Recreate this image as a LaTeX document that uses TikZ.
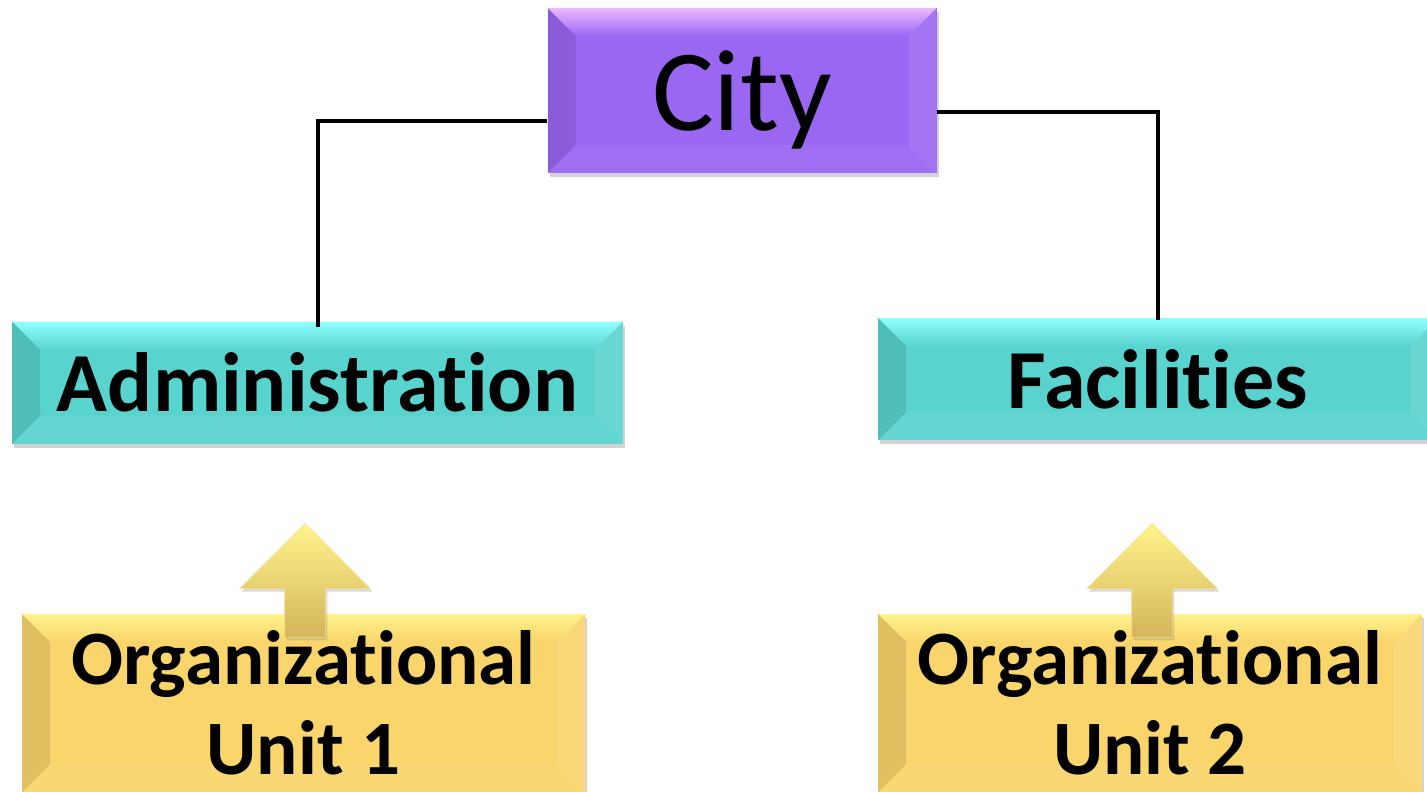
\documentclass[tikz,border=0pt]{standalone}
\usepackage{fontspec}
\setmainfont{Carlito}[Ligatures={NoCommon,NoContextual,NoRequired}, RawFeature={-liga;-clig;-calt}]
\usetikzlibrary{shapes.arrows,shadows}

\definecolor{cityfill}{HTML}{9A67F3}
\definecolor{citylight}{HTML}{EDB8FF}
\definecolor{unitfill}{HTML}{59D3CE}
\definecolor{unitlight}{HTML}{90FFFF}
\definecolor{orgfill}{HTML}{F9D56B}
\definecolor{orglight}{HTML}{FFF38C}

\tikzset{
  bevelbox/.style n args={2}{fill=#1, inner sep=0pt, align=center,
    drop shadow={opacity=0.35, shadow xshift=2pt, shadow yshift=-4pt},
    path picture={
      \coordinate (nw) at (path picture bounding box.north west);
      \coordinate (ne) at (path picture bounding box.north east);
      \coordinate (sw) at (path picture bounding box.south west);
      \coordinate (se) at (path picture bounding box.south east);
      \shade[top color=#2, bottom color=#1] (nw) -- (ne) -- ([xshift=-28pt,yshift=-28pt]ne)
        -- ([xshift=28pt,yshift=-28pt]nw) -- cycle;
      \fill[black, opacity=0.10] (nw) -- ([xshift=28pt,yshift=-28pt]nw)
        -- ([xshift=28pt,yshift=28pt]sw) -- (sw) -- cycle;
      \fill[white, opacity=0.10] (ne) -- ([xshift=-28pt,yshift=-28pt]ne)
        -- ([xshift=-28pt,yshift=28pt]se) -- (se) -- cycle;
      \fill[white, opacity=0.06] (sw) -- ([xshift=28pt,yshift=28pt]sw)
        -- ([xshift=-28pt,yshift=28pt]se) -- (se) -- cycle;
    }},
  citybox/.style={bevelbox={cityfill}{citylight}, minimum width=389pt, minimum height=165pt,
    text depth=0pt, font=\fontsize{116}{120}\selectfont},
  unitbox/.style={bevelbox={unitfill}{unitlight}, minimum height=122pt,
    font=\fontsize{84}{88}\selectfont\bfseries},
  orgbox/.style={bevelbox={orgfill}{orglight}, minimum height=178pt,
    font=\fontsize{77}{90}\selectfont\bfseries},
  uparrow/.style={single arrow, shape border rotate=90, inner sep=20pt,
    minimum height=114pt, single arrow head extend=45pt,
    top color=orglight, bottom color=orgfill!85!black, draw=orgfill!80!white, line width=0.6pt,
    drop shadow={opacity=0.3, shadow xshift=2pt, shadow yshift=-3pt}},
  link/.style={draw=black, line width=4pt}
}

\begin{document}
\begin{tikzpicture}[x=1pt, y=-1pt]
  \useasboundingbox (0,0) rectangle (1427,792);
  \node[citybox] (city) at (742,90.5) {City};
  \node[unitbox, minimum width=611pt] (admin) at (317.5,382.5) {Administration};
  \node[unitbox, minimum width=560pt] (fac) at (1158,379) {Facilities};
  \node[orgbox, minimum width=563pt] (org1) at (303.5,703) {Organizational\\Unit 1};
  \node[orgbox, minimum width=544pt] (org2) at (1150,703) {Organizational\\Unit 2};
  \draw [link] ([yshift=-30pt]city.west) -| ([yshift=-6pt]admin.north);
  \draw [link] ([yshift=-21pt]city.east) -| ([yshift=-2pt]fac.north);
  \node[uparrow, anchor=tip] (up1) at (305,523) {};
  \node[uparrow, anchor=tip] (up2) at (1152,523) {};
\end{tikzpicture}
\end{document}
